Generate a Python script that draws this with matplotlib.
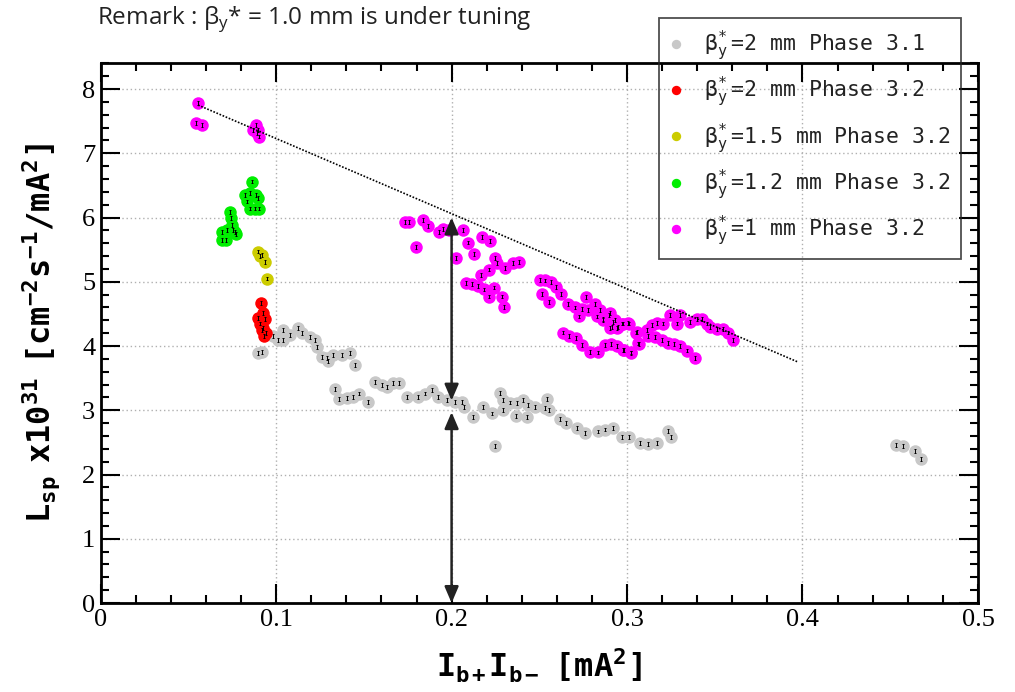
import matplotlib
matplotlib.use("Agg")
from matplotlib import pyplot as plt

plt.rcParams['mathtext.fontset'] = 'custom'
plt.rcParams['mathtext.rm'] = 'DejaVu Sans Mono:bold'
plt.rcParams['mathtext.it'] = 'DejaVu Sans Mono:bold'
plt.rcParams['mathtext.tt'] = 'DejaVu Sans Mono:bold'
plt.rcParams['mathtext.bf'] = 'DejaVu Sans Mono:bold'

# beta_y* = 2 mm, phase 3.1
gray_x = [0.0918, 0.0898, 0.0984, 0.1012, 0.104, 0.104, 0.108, 0.1126, 0.1146, 0.1193,
          0.1221, 0.1235, 0.126, 0.1288, 0.1297, 0.1326, 0.1374, 0.1421, 0.145, 0.1335,
          0.136, 0.1402, 0.144, 0.1474, 0.1525, 0.1563, 0.1601, 0.1634, 0.1664, 0.1702,
          0.1747, 0.181, 0.1848, 0.1887, 0.1924, 0.1972, 0.2019, 0.2057, 0.207, 0.212,
          0.2177, 0.2228, 0.2247, 0.2276, 0.2295, 0.2293, 0.2333, 0.2371, 0.2405, 0.2437,
          0.2475, 0.2367, 0.2428, 0.2542, 0.2532, 0.2557, 0.2618, 0.265, 0.2713, 0.276,
          0.2832, 0.2874, 0.2918, 0.2969, 0.3013, 0.3074, 0.3121, 0.3169, 0.3235, 0.3249,
          0.4532, 0.4574, 0.4641, 0.4675]
gray_y = [3.91, 3.89, 4.15, 4.09, 4.25, 4.09, 4.17, 4.28, 4.20, 4.14,
          4.09, 3.99, 3.83, 3.81, 3.77, 3.86, 3.86, 3.89, 3.70, 3.33,
          3.17, 3.19, 3.20, 3.26, 3.13, 3.44, 3.39, 3.36, 3.43, 3.43,
          3.20, 3.21, 3.26, 3.32, 3.21, 3.16, 3.13, 3.13, 3.05, 2.89,
          3.05, 2.95, 2.44, 3.27, 3.16, 3.00, 3.12, 3.11, 3.16, 3.08,
          3.05, 2.91, 2.89, 3.17, 3.03, 3.00, 2.87, 2.80, 2.73, 2.65,
          2.67, 2.70, 2.72, 2.59, 2.59, 2.49, 2.47, 2.49, 2.68, 2.59,
          2.46, 2.44, 2.37, 2.24]

# beta_y* = 2 mm, phase 3.2
red_x = [0.0914, 0.0927, 0.0898, 0.0936, 0.0908, 0.0927, 0.0942, 0.0932, 0.0917]
red_y = [4.67, 4.51, 4.43, 4.42, 4.35, 4.28, 4.20, 4.15, 4.25]

# beta_y* = 1.5 mm, phase 3.2
yellow_x = [0.0898, 0.0918, 0.0908, 0.0936, 0.0946]
yellow_y = [5.47, 5.42, 5.40, 5.31, 5.05]

# beta_y* = 1.2 mm, phase 3.2
green_x = [0.0864, 0.0822, 0.0851, 0.0885, 0.0898, 0.0832, 0.0851, 0.0879, 0.0904, 0.0737,
           0.0743, 0.0747, 0.069, 0.0722, 0.0765, 0.0771, 0.069, 0.0714, 0.0752]
green_y = [6.56, 6.35, 6.38, 6.35, 6.30, 6.25, 6.14, 6.14, 6.14, 6.09,
           5.99, 5.88, 5.78, 5.80, 5.78, 5.74, 5.65, 5.65, 5.81]

# beta_y* = 1 mm, phase 3.2
mag_x = [0.0556, 0.0543, 0.0576, 0.0885, 0.0898, 0.087, 0.0904, 0.089,
         0.1734, 0.1759, 0.1797, 0.1839, 0.1867, 0.193, 0.1953, 0.1985, 0.2063, 0.2025,
         0.2095, 0.2129, 0.2171, 0.2219, 0.2247, 0.2257, 0.2215, 0.2167, 0.2304, 0.2352,
         0.2386, 0.2082, 0.2114, 0.2149, 0.2185, 0.2215, 0.2241, 0.2285, 0.23,
         0.2504, 0.2532, 0.2565, 0.2593, 0.2513, 0.2555, 0.2623, 0.2665, 0.2703, 0.2741,
         0.2766, 0.2728, 0.2779, 0.2817, 0.2846, 0.2827, 0.2865, 0.2899, 0.2931, 0.2912,
         0.295, 0.2978, 0.3013, 0.3051, 0.2633, 0.2671, 0.2709, 0.2741, 0.2789, 0.2836,
         0.2874, 0.2907, 0.2941, 0.2982, 0.3021, 0.3064,
         0.2864, 0.2903, 0.2918, 0.2903, 0.2941, 0.2969, 0.3007, 0.3055, 0.307, 0.3112,
         0.3121, 0.314, 0.3169, 0.3206, 0.3245, 0.3286, 0.3302, 0.3359, 0.3397, 0.3425,
         0.3454, 0.3473, 0.3511, 0.3545, 0.3577, 0.3605, 0.3159, 0.3197, 0.3235, 0.3267,
         0.3302, 0.334, 0.3387, 0.2978, 0.3021]
mag_y = [7.78, 7.47, 7.44, 7.44, 7.36, 7.36, 7.26, 7.31,
         5.93, 5.93, 5.54, 5.96, 5.87, 5.78, 5.82, 5.81, 5.81, 5.37,
         5.61, 5.43, 5.70, 5.64, 5.37, 5.29, 5.19, 5.11, 5.21, 5.29,
         5.31, 4.98, 4.96, 4.93, 4.88, 4.77, 4.91, 4.77, 4.61,
         5.03, 5.02, 5.00, 4.92, 4.81, 4.68, 4.81, 4.65, 4.60, 4.57,
         4.76, 4.46, 4.56, 4.66, 4.56, 4.46, 4.40, 4.48, 4.40, 4.30,
         4.30, 4.35, 4.35, 4.21, 4.21, 4.16, 4.12, 4.02, 3.91, 3.90,
         4.02, 4.03, 4.00, 3.94, 3.90, 4.04,
         4.42, 4.51, 4.38, 4.28, 4.28, 4.35, 4.36, 4.22, 4.03, 4.25,
         4.16, 4.33, 4.36, 4.35, 4.48, 4.35, 4.48, 4.38, 4.42, 4.42,
         4.35, 4.30, 4.26, 4.26, 4.21, 4.09, 4.14, 4.09, 4.05, 4.03,
         4.00, 3.93, 3.82, 3.94, 3.89]

beta = r'β$_\mathregular{y}^\mathregular{*}\;$'
series = [
    (gray_x, gray_y, '#c8c8c8', beta + '=2 mm Phase 3.1'),
    (red_x, red_y, '#ff0000', beta + '=2 mm Phase 3.2'),
    (yellow_x, yellow_y, '#cccc00', beta + '=1.5 mm Phase 3.2'),
    (green_x, green_y, '#00ee00', beta + '=1.2 mm Phase 3.2'),
    (mag_x, mag_y, '#ff00ff', beta + '=1 mm Phase 3.2'),
]

# dotted guide line and the double arrows at Ib+Ib- = 0.2
guide_x = [0.0555, 0.3975]
guide_y = [7.75, 3.75]
arrow_x = 0.2
arrow_upper = (3.15, 6.0)
arrow_lower = (0.0, 2.97)

fig = plt.figure(figsize=(10.15, 6.92), dpi=100)
ax = fig.add_axes([0.0992, 0.1286, 0.8643, 0.7799])

for i, (x, y, c, lab) in enumerate(series):
    ax.plot(x, y, 'o', color=c, markersize=9, markeredgewidth=0,
            label=lab, zorder=3 + i)
    ax.errorbar(x, y, yerr=0.03, fmt='none', ecolor='k', elinewidth=0.7,
                capsize=1, capthick=0.7, zorder=3 + i)

ax.plot(guide_x, guide_y, color='k', linestyle=(0, (1, 1)), linewidth=1.2, zorder=10)

for lo, hi in (arrow_upper, arrow_lower):
    ax.annotate('', xy=(arrow_x, hi), xytext=(arrow_x, lo),
                arrowprops=dict(arrowstyle='<|-|>,head_width=0.3,head_length=0.7',
                                color='#222222', lw=1.8,
                                mutation_scale=14, shrinkA=0, shrinkB=0),
                zorder=11)

ax.set_xlim(0, 0.5)
ax.set_ylim(0, 8.4)
ax.set_xticks([0, 0.1, 0.2, 0.3, 0.4, 0.5])
ax.set_xticklabels(['0', '0.1', '0.2', '0.3', '0.4', '0.5'])
ax.set_yticks(range(9))
ax.set_xticks([i * 0.02 for i in range(26)], minor=True)
ax.set_yticks([i * 0.2 for i in range(43)], minor=True)
ax.grid(True, which='major', color='#b0b0b0', linestyle=(0, (1, 2)), linewidth=1)
ax.tick_params(which='both', direction='in', top=True, right=True, width=1.5)
ax.tick_params(which='major', length=14, pad=4)
ax.tick_params(which='minor', length=6)
for lbl in ax.get_xticklabels() + ax.get_yticklabels():
    lbl.set_fontfamily('Liberation Serif')
    lbl.set_fontsize(19)
for s in ax.spines.values():
    s.set_linewidth(2)

ax.set_xlabel(r'$\mathtt{I_{b+}I_{b-}\ \ [mA^2]}$', fontsize=23, labelpad=12)
ax.set_ylabel(r'$\mathtt{L_{sp}\ \ x10^{31}\ \ [cm^{-2}s^{-1}/mA^2]}$', fontsize=23, labelpad=14)

leg = ax.legend(loc='upper right', bbox_to_anchor=(0.981, 1.084),
                prop={'family': 'DejaVu Sans Mono', 'size': 15.5},
                markerscale=0.75, handletextpad=1.0, labelspacing=0.55, borderpad=0.5,
                borderaxespad=0, fancybox=False, edgecolor='#222222', facecolor='none',
                handlelength=0.6)
leg.get_frame().set_linewidth(1.3)
for t in leg.get_texts():
    t.set_color('#222222')

fig.text(0.096, 0.972, r'Remark : β$_\mathregular{y}$* = 1.0 mm is under tuning', fontsize=17.5,
         family='Open Sans', color='#222222', va='center')

fig.savefig('out.png', dpi=100)
